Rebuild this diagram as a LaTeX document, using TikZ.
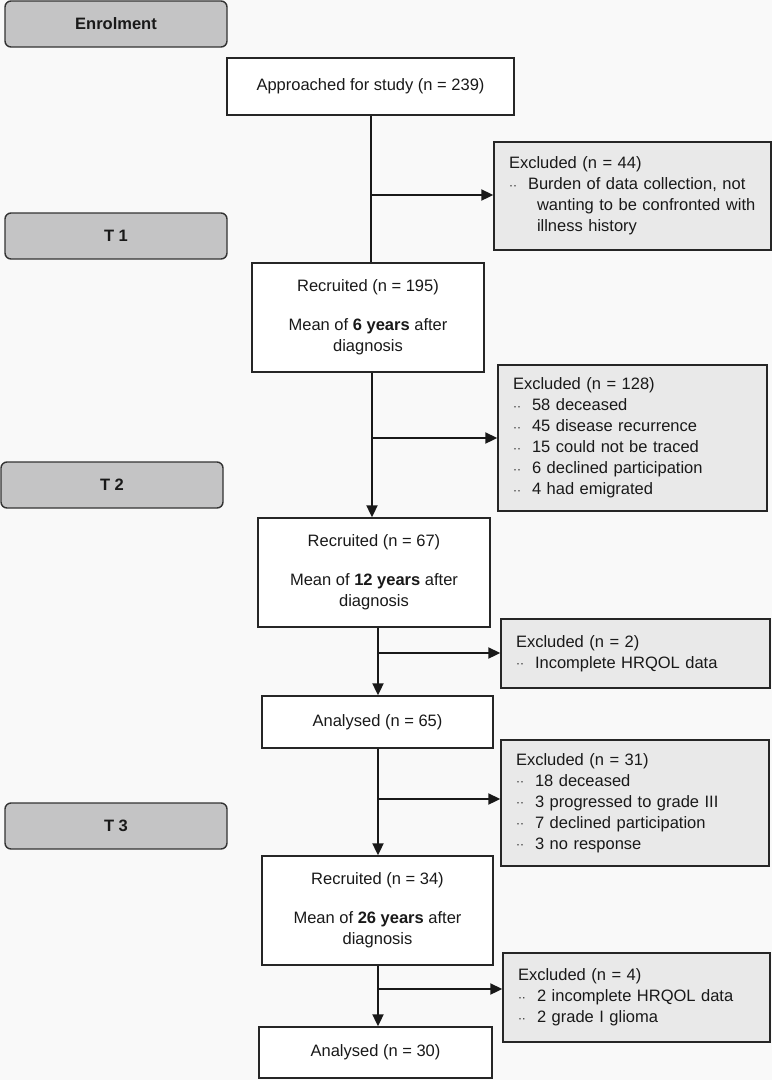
\documentclass[tikz,border=0pt]{standalone}
\usepackage{fontspec}
\setmainfont{Liberation Sans}
\usetikzlibrary{arrows.meta}
\definecolor{bgcol}{HTML}{F9F9F9}
\definecolor{exfill}{HTML}{E9E9E9}
\definecolor{stagefill}{HTML}{C4C4C5}
\newcommand{\dotitem}{\makebox[19pt][l]{\fontsize{12}{12}\selectfont\raisebox{0.5pt}{··}}}
\newcommand{\contline}[1]{\hspace*{28pt}\mbox{#1}}
\begin{document}
\begin{tikzpicture}[x=1pt,y=-1pt,
    every node/.style={font=\fontsize{16.5}{21}\selectfont,text=black!90},
    stage/.style={draw=black!80,line width=1.4pt,rounded corners=6pt,fill=stagefill,
        minimum width=222pt,minimum height=46pt,font=\fontsize{16.5}{21}\selectfont\bfseries},
    mainbox/.style={draw=black!85,line width=1.4pt,fill=white,align=center,inner sep=0pt},
    exbox/.style={draw=black!85,line width=1.4pt,fill=exfill,align=left,inner xsep=15pt,inner ysep=0pt},
    flow/.style={line width=2pt,draw=black!90},
    arr/.style={flow,-{Triangle[length=12pt,width=11pt]}}]
    \fill[bgcol] (0,0) rectangle (772,1080);
    \useasboundingbox (0,0) rectangle (772,1080);

    % stages
    \node[stage] (enrol) at (116,24) {Enrolment};
    \node[stage] (t1) at (116,236) {T 1};
    \node[stage] (t2) at (112,485) {T 2};
    \node[stage] (t3) at (116,826) {T 3};

    % main flow
    \node[mainbox,minimum width=287pt,minimum height=57pt] (app) at (370.5,86.5) {Approached for study (n = 239)};
    \node[mainbox,minimum width=232pt,minimum height=109pt] (rec1) at (368,317.5) {Recruited (n = 195)\\[18pt]Mean of \textbf{6 years} after\\diagnosis};
    \node[mainbox,minimum width=232pt,minimum height=109pt] (rec2) at (374,572.5) {Recruited (n = 67)\\[18pt]Mean of \textbf{12 years} after\\diagnosis};
    \node[mainbox,minimum width=231pt,minimum height=52pt] (ana1) at (377.5,722) {Analysed (n = 65)};
    \node[mainbox,minimum width=231pt,minimum height=109pt] (rec3) at (377.5,910.5) {Recruited (n = 34)\\[18pt]Mean of \textbf{26 years} after\\diagnosis};
    \node[mainbox,minimum width=233pt,minimum height=51pt] (ana2) at (375.5,1052.5) {Analysed (n = 30)};

    % exclusions
    \node[exbox,text width=247pt,minimum height=108pt] (exc1) at (632.5,196) {Excluded (n = 44)\\
        \dotitem Burden of data collection, not\\
        \contline{wanting to be confronted with}\\
        \contline{illness history}};
    \node[exbox,text width=239pt,minimum height=146pt] (exc2) at (632.5,438) {Excluded (n = 128)\\
        \dotitem 58 deceased\\
        \dotitem 45 disease recurrence\\
        \dotitem 15 could not be traced\\
        \dotitem 6 declined participation\\
        \dotitem 4 had emigrated};
    \node[exbox,text width=239pt,minimum height=69pt] (exc3) at (635.5,653.5) {Excluded (n = 2)\\
        \dotitem Incomplete HRQOL data};
    \node[exbox,text width=238pt,minimum height=126pt] (exc4) at (635,803) {Excluded (n = 31)\\
        \dotitem 18 deceased\\
        \dotitem 3 progressed to grade III\\
        \dotitem 7 declined participation\\
        \dotitem 3 no response};
    \node[exbox,text width=237pt,minimum height=89pt] (exc5) at (636.5,997.5) {Excluded (n = 4)\\
        \dotitem 2 incomplete HRQOL data\\
        \dotitem 2 grade I glioma};

    % connectors
    \coordinate (b1) at (371,195);
    \coordinate (b2) at (372,438);
    \coordinate (b3) at (378,653);
    \coordinate (b4) at (378,799);
    \coordinate (b5) at (378,989);
    \draw[flow] (app.south -| b1) -- (rec1.north -| b1);
    \draw[arr] (b1) -- (b1 -| exc1.west);
    \draw[arr] (rec1.south -| b2) -- (rec2.north -| b2);
    \draw[arr] (b2) -- (b2 -| exc2.west);
    \draw[arr] (rec2.south -| b3) -- (ana1.north -| b3);
    \draw[arr] (b3) -- (b3 -| exc3.west);
    \draw[arr] (ana1.south -| b4) -- (rec3.north -| b4);
    \draw[arr] (b4) -- (b4 -| exc4.west);
    \draw[arr] (rec3.south -| b5) -- (ana2.north -| b5);
    \draw[arr] (b5) -- (b5 -| exc5.west);
\end{tikzpicture}
\end{document}
